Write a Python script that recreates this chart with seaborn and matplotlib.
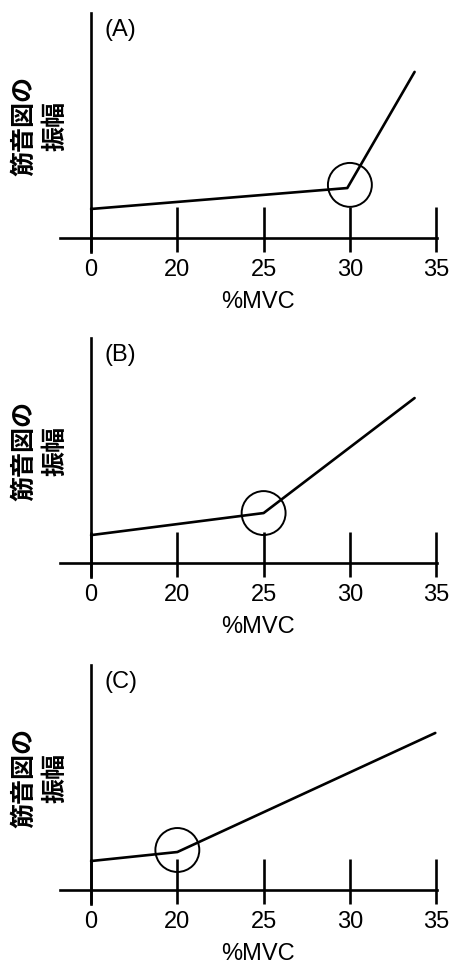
import matplotlib
matplotlib.use("Agg")
import pandas as pd
import seaborn as sns
from matplotlib import pyplot as plt

sns.set_style("white")
plt.rcParams['font.family'] = ['Liberation Sans', 'Noto Sans CJK JP', 'DejaVu Sans']
plt.rcParams['text.color'] = 'black'
plt.rcParams['axes.labelcolor'] = 'black'
plt.rcParams['xtick.color'] = 'black'

# x axis is drawn on an even spacing: 0, 20, 25, 30, 35 %MVC
tick_pos = [0, 1, 2, 3, 4]
tick_labels = ["0", "20", "25", "30", "35"]

panels = ["(A)", "(B)", "(C)"]

# line data (x in tick positions, y in arbitrary amplitude units)
a_x = [0, 2.97, 3.75]
a_y = [1.29, 2.22, 7.38]
b_x = [0, 2.0, 3.75]
b_y = [1.24, 2.22, 7.33]
c_x = [0, 1.0, 3.99]
c_y = [1.29, 1.69, 6.98]

# circled breakpoints
circle_x = [3.0, 2.0, 1.0]
circle_y = [2.36, 2.22, 1.78]

lines = [(a_x, a_y), (b_x, b_y), (c_x, c_y)]

fig = plt.figure(figsize=(4.54, 9.65), dpi=100)
bottoms = [0.7389, 0.4021, 0.0632]

for i, (lx, ly) in enumerate(lines):
    ax = fig.add_axes([0.1322, bottoms[i], 0.8304, 0.2477])
    df = pd.DataFrame({"x": lx, "y": ly})
    sns.lineplot(data=df, x="x", y="y", color="black", linewidth=1.9, ax=ax)
    sns.scatterplot(x=[circle_x[i]], y=[circle_y[i]], s=1000, marker="o",
                    facecolor="none", edgecolor="black", linewidth=1.4, ax=ax)

    ax.set_xlim(-0.36, 4.01)
    ax.set_ylim(-0.62, 10)

    for s in ["top", "right"]:
        ax.spines[s].set_visible(False)
    ax.spines["left"].set_position(("data", 0))
    ax.spines["bottom"].set_position(("data", 0))
    for s in ["left", "bottom"]:
        ax.spines[s].set_linewidth(1.9)
        ax.spines[s].set_color("black")

    ax.set_yticks([])
    ax.set_xticks(tick_pos)
    ax.set_xticklabels(tick_labels)
    ax.set_xticks(tick_pos, minor=True)
    ax.xaxis.remove_overlapping_locs = False
    ax.tick_params(axis="x", which="major", bottom=True, direction="out",
                   length=10, width=1.9, color="black", labelsize=17, pad=5)
    ax.tick_params(axis="x", which="minor", bottom=True, direction="in",
                   length=22, width=1.9, color="black")

    ax.set_xlabel("%MVC", fontsize=17, va="center")
    ax.xaxis.set_label_coords(0.525, -0.209)
    ax.set_ylabel("筋音図の\n振幅", fontsize=18, family=["Noto Sans CJK JP"],
                  fontweight="bold", linespacing=1.4, ha="center", va="center")
    ax.yaxis.set_label_coords(-0.053, 0.527)

    ax.text(0.119, 0.929, panels[i], transform=ax.transAxes, fontsize=17,
            ha="left", va="center")

fig.savefig("out.png", dpi=100)
